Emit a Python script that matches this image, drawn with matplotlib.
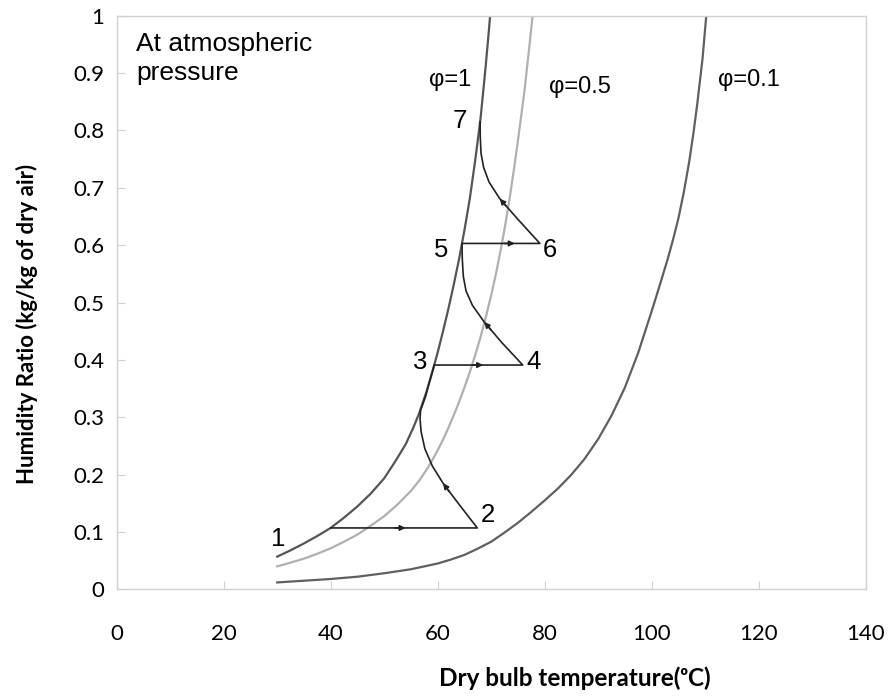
import matplotlib
matplotlib.use('Agg')
import matplotlib.pyplot as plt
import numpy as np

# saturation curves (dry bulb degC, humidity ratio)
t_phi1 = [30, 32.5, 35, 37.5, 40, 42.5, 45, 47.5, 50, 52, 54, 55.5, 56.5, 58, 59, 60,
          61, 62, 63, 64, 65, 66, 67, 68, 68.5, 69, 69.5, 69.8]
w_phi1 = [0.057, 0.068, 0.080, 0.093, 0.107, 0.125, 0.1445, 0.167, 0.1935, 0.222,
          0.2525, 0.283, 0.306, 0.347, 0.379, 0.413, 0.450, 0.489, 0.531, 0.576,
          0.626, 0.681, 0.747, 0.820, 0.867, 0.915, 0.967, 1.0]

t_phi05 = [30, 32.5, 35, 37.5, 40, 42.5, 45, 47.5, 50, 52.5, 55, 56.5, 58, 59, 60, 61,
           62, 63, 64, 65, 66, 67, 68, 69, 70, 71, 72, 72.75, 73.5, 74.25, 75, 75.65,
           76.3, 76.7, 77.1, 77.4, 77.75]
w_phi05 = [0.040, 0.0465, 0.0535, 0.062, 0.0715, 0.083, 0.0955, 0.111, 0.1275, 0.148,
           0.1715, 0.189, 0.2095, 0.2255, 0.2425, 0.261, 0.2815, 0.3035, 0.3265, 0.352,
           0.3785, 0.408, 0.4395, 0.4745, 0.5125, 0.555, 0.6025, 0.642, 0.685, 0.732,
           0.7825, 0.828, 0.875, 0.91, 0.943, 0.97, 1.0]

t_phi01 = [30, 35, 40, 45, 50, 55, 60, 62.5, 65, 67.5, 70, 72.5, 75, 77.5, 80, 82.5,
           85, 87.5, 90, 92.5, 95, 97.5, 100, 101.5, 103, 104, 105, 106, 107, 107.8,
           108.5, 109, 109.5, 110.2]
w_phi01 = [0.012, 0.015, 0.018, 0.022, 0.028, 0.035, 0.045, 0.052, 0.060, 0.071,
           0.083, 0.099, 0.116, 0.135, 0.155, 0.176, 0.200, 0.228, 0.262, 0.303,
           0.352, 0.413, 0.485, 0.530, 0.576, 0.610, 0.647, 0.692, 0.745, 0.795,
           0.845, 0.885, 0.925, 1.0]

# process path 1 -> 7
path_t = [40, 67.4,
          64, 61, 59, 57.6, 56.9, 56.7, 56.8, 57.3, 57.76, 58.25, 58.75, 59.35,
          75.9,
          72, 68.7, 66.5, 65.3, 64.8, 64.6, 64.54,
          79.1,
          75, 71.6, 69.6, 68.6, 68.1, 67.95, 67.93]
path_w = [0.107, 0.107,
          0.148, 0.185, 0.215, 0.245, 0.275, 0.297, 0.312, 0.325, 0.337, 0.355, 0.371, 0.391,
          0.391,
          0.430, 0.466, 0.495, 0.520, 0.545, 0.575, 0.603,
          0.603,
          0.645, 0.681, 0.710, 0.735, 0.760, 0.790, 0.815]

# arrow heads: (tail, tip)
arrows = [((52.0, 0.107), (54.0, 0.107)),
          ((62.2, 0.170), (61.0, 0.185)),
          ((66.5, 0.391), (68.5, 0.391)),
          ((70.0, 0.452), (68.7, 0.466)),
          ((72.4, 0.603), (74.4, 0.603)),
          ((72.8, 0.668), (71.6, 0.681))]

state_labels = ['1', '2', '3', '4', '5', '6', '7']
state_t = [30.2, 69.3, 56.7, 77.9, 60.7, 81.0, 64.2]
state_w = [0.088, 0.130, 0.396, 0.397, 0.592, 0.592, 0.817]

phi_labels = ['φ=1', 'φ=0.5', 'φ=0.1']
phi_t = [62.3, 86.5, 118.2]
phi_w = [0.888, 0.875, 0.888]

xticks = [0, 20, 40, 60, 80, 100, 120, 140]
yticks = [0, 0.1, 0.2, 0.3, 0.4, 0.5, 0.6, 0.7, 0.8, 0.9, 1]
ytick_labels = ['0', '0.1', '0.2', '0.3', '0.4', '0.5', '0.6', '0.7', '0.8', '0.9', '1']

txt_font = ['Liberation Sans', 'DejaVu Sans']
ax_font = ['Lato', 'DejaVu Sans']

fig = plt.figure(figsize=(8.9, 6.98), dpi=100)
ax = fig.add_axes([0.1311, 0.1557, 0.8416, 0.8218])

ax.plot(t_phi1, w_phi1, color='#555555', lw=1.6)
ax.plot(t_phi05, w_phi05, color='#b0b0b0', lw=1.6)
ax.plot(t_phi01, w_phi01, color='#606060', lw=1.6)
ax.plot(path_t, path_w, color='#222222', lw=1.2)

for tail, tip in arrows:
    ax.annotate('', xy=tip, xytext=tail,
                arrowprops=dict(arrowstyle='-|>', color='#222222', lw=1.2,
                                mutation_scale=8, shrinkA=0, shrinkB=0))

for lab, t, w in zip(state_labels, state_t, state_w):
    ax.text(t, w, lab, fontsize=18.5, ha='center', va='center', family=txt_font)

for lab, t, w in zip(phi_labels, phi_t, phi_w):
    ax.text(t, w, lab, fontsize=17, ha='center', va='center', family=txt_font)

ax.text(3.6, 0.972, 'At atmospheric\npressure', fontsize=19, ha='left', va='top',
        family=txt_font, linespacing=1.3)

ax.set_xlim(0, 140)
ax.set_ylim(0, 1)
ax.set_xticks(xticks)
ax.set_yticks(yticks)
ax.set_yticklabels(ytick_labels)
for s in ax.spines.values():
    s.set_color('#d0d0d0')
    s.set_linewidth(1.0)
ax.tick_params(axis='both', direction='in', length=6, color='#d0d0d0', labelsize=16)
ax.tick_params(axis='x', pad=25)
ax.tick_params(axis='y', pad=9)
for lab in ax.get_xticklabels() + ax.get_yticklabels():
    lab.set_family(ax_font)

ax.set_xlabel('Dry bulb temperature(ᵒC)', fontsize=17.5, fontweight='bold', family=ax_font)
ax.set_ylabel('Humidity Ratio (kg/kg of dry air)', fontsize=16, fontweight='bold', family=ax_font)
ax.xaxis.set_label_coords(0.612, -0.135)
ax.yaxis.set_label_coords(-0.105, 0.462)

fig.savefig('out.png', dpi=100)
